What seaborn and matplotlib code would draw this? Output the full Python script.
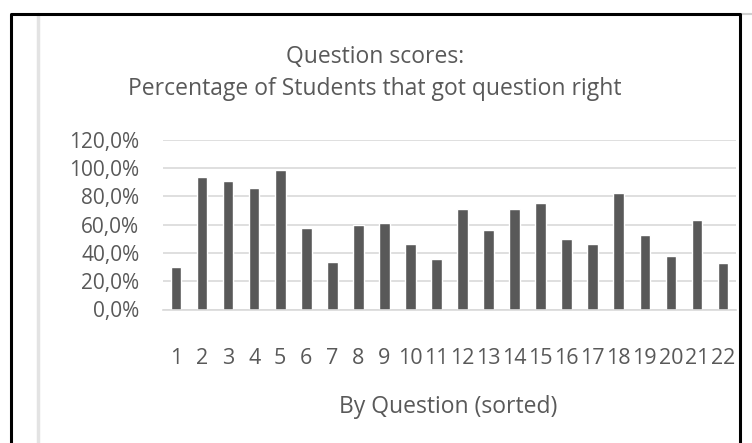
import matplotlib
matplotlib.use("Agg")
import matplotlib.pyplot as plt
import seaborn as sns
import pandas as pd
from matplotlib.ticker import FuncFormatter
from matplotlib.lines import Line2D

questions = [str(i) for i in range(1, 23)]
scores = [30.0, 93.5, 91.0, 86.0, 98.5, 57.5, 33.5, 60.0, 61.0, 46.0, 36.0,
          71.0, 56.0, 71.0, 75.0, 50.0, 46.0, 82.5, 52.5, 37.5, 63.5, 32.5]

data = pd.DataFrame({"question": questions, "score": [s / 100 for s in scores]})

sns.set_style("white")
plt.rcParams["font.family"] = ["Open Sans", "DejaVu Sans"]
text_color = "#595959"

fig = plt.figure(figsize=(7.52, 4.43), dpi=100)
ax = fig.add_axes([163 / 752, 1 - 309.5 / 443, (736 - 163) / 752, (309.5 - 139.5) / 443])

sns.barplot(x="question", y="score", data=data, color="#595959", width=0.41,
            saturation=1, ax=ax)

ax.set_ylim(0, 1.2)
ax.set_xlim(-0.5, 21.5)
ax.set_yticks([0, 0.2, 0.4, 0.6, 0.8, 1.0, 1.2])
ax.yaxis.set_major_formatter(FuncFormatter(lambda v, p: f"{v * 100:.1f}%".replace(".", ",")))
ax.grid(axis="y", color="#d9d9d9", linewidth=1.2)
ax.set_axisbelow(True)
for side in ["top", "right", "left"]:
    ax.spines[side].set_visible(False)
ax.spines["bottom"].set_color("#d9d9d9")
ax.spines["bottom"].set_linewidth(1.2)
ax.tick_params(axis="both", length=0, labelcolor=text_color)
ax.tick_params(axis="x", pad=28, labelsize=15.5)
ax.tick_params(axis="y", pad=17, labelsize=15)
ax.set_xlabel("")
ax.set_ylabel("")

fig.text(375 / 752, 1 - 57 / 443, "Question scores:", ha="center", va="center",
         fontsize=16.5, color=text_color)
fig.text(375 / 752, 1 - 89 / 443, "Percentage of Students that got question right",
         ha="center", va="center", fontsize=16.5, color=text_color)
fig.text(448 / 752, 1 - 407 / 443, "By Question (sorted)", ha="center", va="center",
         fontsize=16.5, color=text_color)

# chart frame
fig.add_artist(Line2D([38 / 752, 38 / 752], [0, 1 - 14 / 443], transform=fig.transFigure,
                      color="#e3e3e3", linewidth=2.5))
fig.add_artist(Line2D([740 / 752, 1], [1 - 13.5 / 443, 1 - 13.5 / 443], transform=fig.transFigure,
                      color="#d0d0d0", linewidth=1.5))
fig.add_artist(Line2D([11 / 752, 11 / 752, 740 / 752, 740 / 752],
                      [0, 1 - 13.5 / 443, 1 - 13.5 / 443, 0], transform=fig.transFigure,
                      color="black", linewidth=2.2))

fig.savefig("out.png", dpi=100)
